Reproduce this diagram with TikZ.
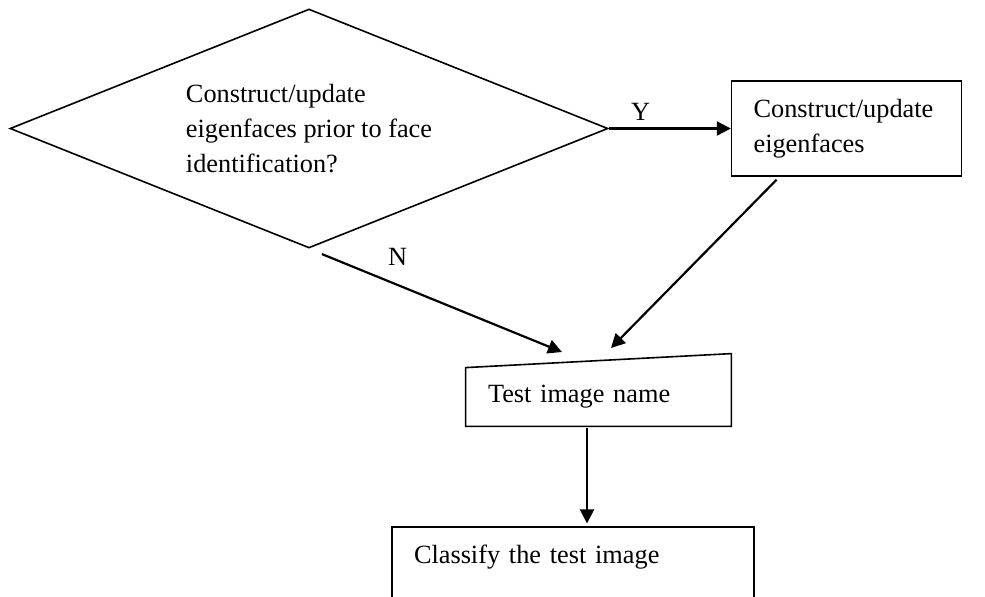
\documentclass[tikz,border=0pt]{standalone}
\usepackage{fontspec}
\setmainfont{Liberation Serif}
\usetikzlibrary{shapes.geometric, arrows.meta, positioning, calc}

\begin{document}
\begin{tikzpicture}[
  font=\fontsize{13.15}{17.5}\selectfont,
  decision/.style={draw, diamond, shape aspect=2.5, line width=0.8pt, minimum width=299pt, minimum height=119.5pt, align=left, inner sep=0pt},
  procbox/.style={draw, line width=0.8pt, align=left, inner xsep=11pt, minimum height=47.5pt},
  arrow/.style={-{Triangle[length=7pt, width=7pt]}, line width=1.1pt},
  lbl/.style={inner sep=1pt}
]
  \path[use as bounding box] (0,0) rectangle (492.5pt,-298pt);
  \clip (0,0) rectangle (492.5pt,-298pt);

  % Decision diamond
  \node[decision] (decide) at (154.5pt,-64.25pt)
    {Construct/update\\
     eigenfaces prior to face\\
     identification?};

  % Eigenface step (yes branch)
  \node[procbox, text width=93pt, right=61pt of decide] (build)
    {Construct/update\\
     eigenfaces};

  % Test image input, slanted top drawn by hand
  \node[align=left, text width=110.5pt, inner xsep=11pt, minimum height=29pt] (testname) at (299.25pt,-198.5pt)
    {Test image name};
  \draw[line width=0.8pt] (testname.south west) -- (testname.south east)
    -- ([yshift=7pt]testname.north east) -- (testname.north west) -- cycle;

  % Classification step, text kept at the top
  \node[procbox, text width=159pt, inner ysep=6pt, text height=12pt, text depth=23.5pt,
        below=50pt of testname, xshift=-12.75pt] (classify)
    {Classify the test image};

  % Arrow ends above the input box
  \coordinate (nTip) at (281pt,-176pt);
  \coordinate (yTip) at (305.5pt,-174pt);

  % Arrows
  \draw[arrow] (decide.east) -- node[lbl, pos=0.26, above=2.5pt] {Y} (build.west);
  \draw[arrow, shorten <=7pt] (decide.south) -- node[lbl, pos=0.35, above=8pt] {N} (nTip);
  \draw[arrow, shorten <=2pt] ($(build.south west)!0.21!(build.south east)$) -- (yTip);
  \draw[arrow, shorten <=1pt, shorten >=1.5pt] ([xshift=-5.75pt]testname.south) -- ([xshift=7pt]classify.north);
\end{tikzpicture}
\end{document}
